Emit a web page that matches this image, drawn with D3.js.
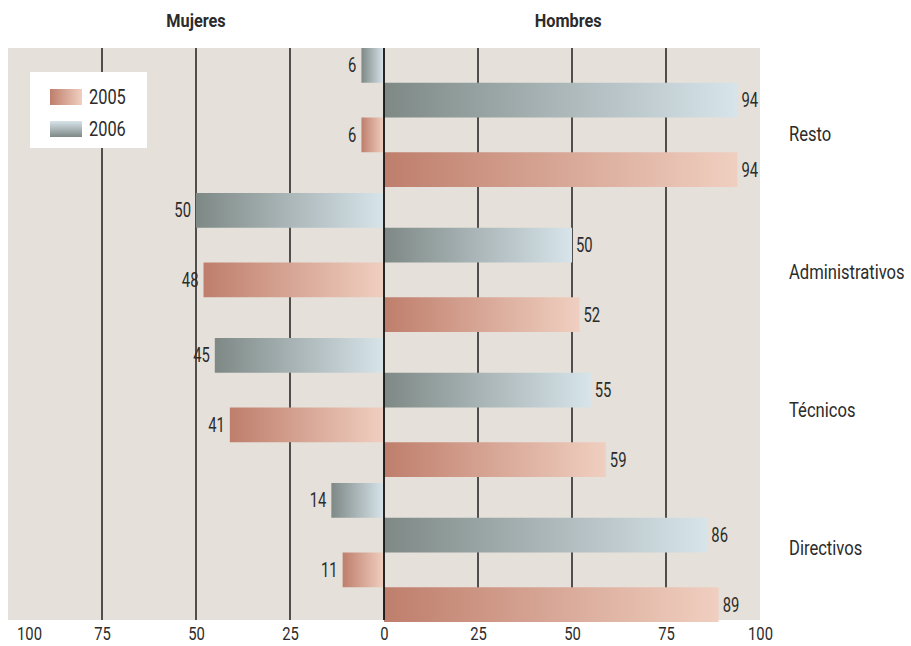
<!DOCTYPE html>
<html>
<head>
<meta charset="utf-8">
<script src="https://cdn.jsdelivr.net/npm/d3@7"></script>
<style>
  html, body { margin: 0; padding: 0; background: #fff; }
  svg { display: block; }
  text { font-family: Roboto, "Noto Sans", sans-serif; fill: #2b2b2b; }
</style>
</head>
<body>
<svg id="chart" width="911" height="646"></svg>
<script>
// Share of staff by sex and job category, 2005 vs 2006 (%)
const categories = ["Resto", "Administrativos", "Técnicos", "Directivos"];
const years = ["2005", "2006"];
const mujeres2006 = [6, 50, 45, 14];
const hombres2006 = [94, 50, 55, 86];
const mujeres2005 = [6, 48, 41, 11];
const hombres2005 = [94, 52, 59, 89];
const tickValues = [-100, -75, -50, -25, 0, 25, 50, 75, 100];
const gridValues = [-75, -50, -25, 25, 50, 75];

// Row order inside each category block, top to bottom
const rowKeys = ["m2006", "h2006", "m2005", "h2005"];
const rows = [];
categories.forEach((c, i) => {
  rows.push({ cat: c, key: "m2006", year: "2006", value: -mujeres2006[i], label: mujeres2006[i] });
  rows.push({ cat: c, key: "h2006", year: "2006", value: hombres2006[i], label: hombres2006[i] });
  rows.push({ cat: c, key: "m2005", year: "2005", value: -mujeres2005[i], label: mujeres2005[i] });
  rows.push({ cat: c, key: "h2005", year: "2005", value: hombres2005[i], label: hombres2005[i] });
});

const svg = d3.select("#chart");
const plot = { left: 8, right: 760, top: 48, bottom: 620 };

const x = d3.scaleLinear().domain([-100, 100]).range([plot.left, plot.right]);
const yCat = d3.scaleBand().domain(categories).range([plot.top, plot.top + 574]).paddingInner(0.0414).paddingOuter(0);
const yRow = d3.scaleBand().domain(rowKeys).range([0, yCat.bandwidth()]).padding(0);
const yLabel = d3.scalePoint().domain(categories).range([134, 548]);

// Condensed lettering: squeeze text horizontally around its anchor point
const squeeze = (sx) => (d, i, nodes) => {
  const n = d3.select(nodes[i]);
  const px = +n.attr("data-x"), py = +n.attr("data-y");
  return `translate(${px},${py}) scale(${sx},1)`;
};

// Gradients
const defs = svg.append("defs");
const colours = {
  "2005": ["#bf7e6c", "#f0cfc0"],
  "2006": ["#7e8986", "#d7e4ea"]
};
years.forEach(yr => {
  const g = defs.append("linearGradient").attr("id", "grad" + yr)
    .attr("x1", "0%").attr("x2", "100%").attr("y1", "0%").attr("y2", "0%");
  g.append("stop").attr("offset", "0%").attr("stop-color", colours[yr][0]);
  g.append("stop").attr("offset", "100%").attr("stop-color", colours[yr][1]);
});
const gv = defs.append("linearGradient").attr("id", "grad2006v")
  .attr("x1", "0%").attr("x2", "0%").attr("y1", "0%").attr("y2", "100%");
gv.append("stop").attr("offset", "0%").attr("stop-color", colours["2006"][1]);
gv.append("stop").attr("offset", "100%").attr("stop-color", colours["2006"][0]);

// Plot background
svg.append("rect")
  .attr("x", plot.left).attr("y", plot.top)
  .attr("width", plot.right - plot.left).attr("height", plot.bottom - plot.top)
  .attr("fill", "#e5e1da");

// Grid lines
svg.append("g").selectAll("line").data(gridValues).join("line")
  .attr("x1", d => x(d)).attr("x2", d => x(d))
  .attr("y1", plot.top).attr("y2", plot.bottom)
  .attr("stroke", "#1e1e1e").attr("stroke-width", 1.5);

// Bars
svg.append("g").selectAll("rect").data(rows).join("rect")
  .attr("x", d => Math.min(x(0), x(d.value)))
  .attr("width", d => Math.abs(x(d.value) - x(0)))
  .attr("y", d => yCat(d.cat) + yRow(d.key))
  .attr("height", yRow.bandwidth())
  .attr("fill", d => `url(#grad${d.year})`);

// Zero line
svg.append("line")
  .attr("x1", x(0)).attr("x2", x(0))
  .attr("y1", plot.top).attr("y2", plot.bottom)
  .attr("stroke", "#111").attr("stroke-width", 1.8);

// Value labels
svg.append("g").selectAll("text").data(rows).join("text")
  .attr("data-x", d => d.value < 0 ? x(d.value) - 5 : x(d.value) + 4)
  .attr("data-y", d => yCat(d.cat) + yRow(d.key) + yRow.bandwidth() / 2)
  .attr("transform", squeeze(0.76))
  .attr("dy", "0.36em")
  .attr("text-anchor", d => d.value < 0 ? "end" : "start")
  .attr("font-size", 19.5)
  .text(d => d.label);

// Category labels
svg.append("g").selectAll("text").data(categories).join("text")
  .attr("data-x", 789)
  .attr("data-y", d => yLabel(d))
  .attr("transform", squeeze(0.83))
  .attr("dy", "0.36em")
  .attr("font-size", 20)
  .attr("fill", "#333")
  .text(d => d);

// Bottom axis
const axisScale = 0.8;
const axis = d3.axisBottom(x).tickValues(tickValues).tickSize(0).tickPadding(0)
  .tickFormat(d => Math.abs(d));
const ax = svg.append("g").attr("transform", `translate(0,${plot.bottom + 7})`).call(axis);
ax.select(".domain").remove();
ax.selectAll("text")
  .attr("font-size", 18.5)
  .attr("font-family", "Roboto, sans-serif")
  .attr("fill", "#2b2b2b")
  .attr("dy", "0.7em")
  .attr("transform", `scale(${axisScale},1)`)
  .attr("x", d => d === -100 ? 21 / axisScale : 0);

// Section headers
const headers = [{ text: "Mujeres", at: -50 }, { text: "Hombres", at: 49 }];
svg.append("g").selectAll("text").data(headers).join("text")
  .attr("data-x", d => x(d.at))
  .attr("data-y", 27)
  .attr("transform", squeeze(0.88))
  .attr("text-anchor", "middle")
  .attr("font-size", 18.5).attr("font-weight", "bold").attr("fill", "#222")
  .text(d => d.text);

// Legend
const legend = svg.append("g").attr("transform", "translate(30,72)");
legend.append("rect").attr("width", 117).attr("height", 76).attr("fill", "#fff");
const legendFill = { "2005": "url(#grad2005)", "2006": "url(#grad2006v)" };
legend.selectAll("rect.swatch").data(years).join("rect").attr("class", "swatch")
  .attr("x", 20).attr("y", (d, i) => 17 + i * 32)
  .attr("width", 32).attr("height", 16).attr("fill", d => legendFill[d]);
legend.selectAll("text").data(years).join("text")
  .attr("data-x", 59).attr("data-y", (d, i) => 25 + i * 32)
  .attr("transform", squeeze(0.84))
  .attr("dy", "0.36em")
  .attr("font-size", 19.5).attr("fill", "#333")
  .text(d => d);
</script>
</body>
</html>
